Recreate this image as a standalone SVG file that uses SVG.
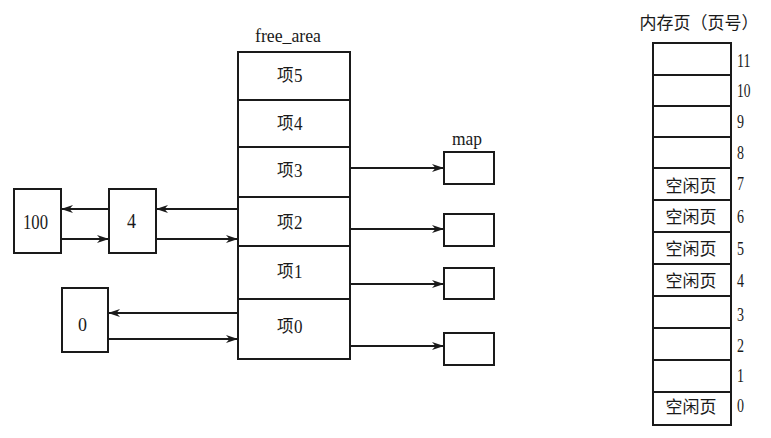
<svg xmlns="http://www.w3.org/2000/svg" width="771" height="438" viewBox="0 0 771 438">
<style>
  .box{fill:#fff;stroke:#1a1a1a;stroke-width:2}
  .sep{stroke:#1a1a1a;stroke-width:2}
  .s{font-family:"Liberation Serif",serif;fill:#1a1a1a}
  .c{font-family:"Noto Sans CJK SC","Liberation Serif",serif;font-size:16.5px;fill:#1a1a1a}
  .p{font-family:"Noto Sans CJK SC","Liberation Serif",serif;font-size:17px;fill:#1a1a1a;text-anchor:middle}
  .r{font-family:"Liberation Serif",serif;font-size:19px;fill:#1a1a1a}
  .d{font-family:"Liberation Serif",serif;font-size:18.5px;fill:#1a1a1a}
  .ln{stroke:#1a1a1a;stroke-width:1.8;fill:none;marker-end:url(#ah)}
</style>
<defs>
  <marker id="ah" markerUnits="userSpaceOnUse" markerWidth="13" markerHeight="9" refX="12" refY="4.5" orient="auto">
    <path d="M0,0.5 L12,4.5 L0,8.5 L3.5,4.5 z" fill="#1a1a1a"/>
  </marker>
</defs>
<rect width="771" height="438" fill="#fff"/>

<g id="free_area">
  <text class="s" x="255" y="42" font-size="19" textLength="66" lengthAdjust="spacingAndGlyphs">free_area</text>
  <rect class="box" x="238" y="52" width="112" height="307"/>
  <line class="sep" x1="238" y1="100" x2="350" y2="100"/>
  <line class="sep" x1="238" y1="147" x2="350" y2="147"/>
  <line class="sep" x1="238" y1="197" x2="350" y2="197"/>
  <line class="sep" x1="238" y1="246" x2="350" y2="246"/>
  <line class="sep" x1="238" y1="299" x2="350" y2="299"/>
  <text class="c" x="277" y="81">项</text><text class="d" x="294" y="82" textLength="8.5" lengthAdjust="spacingAndGlyphs">5</text>
  <text class="c" x="277" y="129">项</text><text class="d" x="294" y="130" textLength="8.5" lengthAdjust="spacingAndGlyphs">4</text>
  <text class="c" x="277" y="176">项</text><text class="d" x="294" y="177" textLength="8.5" lengthAdjust="spacingAndGlyphs">3</text>
  <text class="c" x="277" y="228">项</text><text class="d" x="294" y="229" textLength="8.5" lengthAdjust="spacingAndGlyphs">2</text>
  <text class="c" x="277" y="277">项</text><text class="d" x="294" y="278" textLength="8.5" lengthAdjust="spacingAndGlyphs">1</text>
  <text class="c" x="277" y="332">项</text><text class="d" x="294" y="333" textLength="8.5" lengthAdjust="spacingAndGlyphs">0</text>
</g>

<g id="map">
  <text class="s" x="452" y="145" font-size="19" textLength="30" lengthAdjust="spacingAndGlyphs">map</text>
  <rect class="box" x="444" y="152" width="50" height="32"/>
  <rect class="box" x="444" y="214" width="50" height="32"/>
  <rect class="box" x="444" y="268" width="50" height="31"/>
  <rect class="box" x="444" y="333" width="50" height="32"/>
</g>

<g id="node100">
  <rect class="box" x="14" y="189" width="47" height="64"/>
  <text class="s" x="23" y="229" font-size="22" textLength="25" lengthAdjust="spacingAndGlyphs">100</text>
</g>
<g id="node4">
  <rect class="box" x="109" y="189" width="47" height="64"/>
  <text class="s" x="127" y="228" font-size="21" textLength="9" lengthAdjust="spacingAndGlyphs">4</text>
</g>
<g id="node0">
  <rect class="box" x="62" y="288" width="46" height="64"/>
  <text class="s" x="78" y="331" font-size="19.5" textLength="9" lengthAdjust="spacingAndGlyphs">0</text>
</g>

<g id="pages">
  <text class="p" x="699" y="29">内存页（页号）</text>
  <rect class="box" x="653" y="43" width="78" height="382"/>
  <line class="sep" x1="653" y1="75" x2="731" y2="75"/>
  <line class="sep" x1="653" y1="106" x2="731" y2="106"/>
  <line class="sep" x1="653" y1="137" x2="731" y2="137"/>
  <line class="sep" x1="653" y1="168" x2="731" y2="168"/>
  <line class="sep" x1="653" y1="200" x2="731" y2="200"/>
  <line class="sep" x1="653" y1="232" x2="731" y2="232"/>
  <line class="sep" x1="653" y1="264" x2="731" y2="264"/>
  <line class="sep" x1="653" y1="296" x2="731" y2="296"/>
  <line class="sep" x1="653" y1="328" x2="731" y2="328"/>
  <line class="sep" x1="653" y1="360" x2="731" y2="360"/>
  <line class="sep" x1="653" y1="392" x2="731" y2="392"/>
  <text class="p" x="691" y="192">空闲页</text>
  <text class="p" x="691" y="223">空闲页</text>
  <text class="p" x="691" y="255">空闲页</text>
  <text class="p" x="691" y="287">空闲页</text>
  <text class="p" x="691" y="413">空闲页</text>
  <text class="r" x="737" y="67" textLength="13.5" lengthAdjust="spacingAndGlyphs">11</text>
  <text class="r" x="737" y="97" textLength="13.5" lengthAdjust="spacingAndGlyphs">10</text>
  <text class="r" x="737" y="128" textLength="7" lengthAdjust="spacingAndGlyphs">9</text>
  <text class="r" x="737" y="159" textLength="7" lengthAdjust="spacingAndGlyphs">8</text>
  <text class="r" x="737" y="190" textLength="7" lengthAdjust="spacingAndGlyphs">7</text>
  <text class="r" x="737" y="223" textLength="7" lengthAdjust="spacingAndGlyphs">6</text>
  <text class="r" x="737" y="255" textLength="7" lengthAdjust="spacingAndGlyphs">5</text>
  <text class="r" x="737" y="287" textLength="7" lengthAdjust="spacingAndGlyphs">4</text>
  <text class="r" x="737" y="321" textLength="7" lengthAdjust="spacingAndGlyphs">3</text>
  <text class="r" x="737" y="352" textLength="7" lengthAdjust="spacingAndGlyphs">2</text>
  <text class="r" x="737" y="382" textLength="7" lengthAdjust="spacingAndGlyphs">1</text>
  <text class="r" x="737" y="412" textLength="7" lengthAdjust="spacingAndGlyphs">0</text>
</g>

<g id="connectors">
  <line class="ln" x1="350" y1="168" x2="444" y2="168"/>
  <line class="ln" x1="350" y1="229" x2="444" y2="229"/>
  <line class="ln" x1="350" y1="284" x2="444" y2="284"/>
  <line class="ln" x1="350" y1="346" x2="444" y2="346"/>
  <line class="ln" x1="238" y1="209" x2="156" y2="209"/>
  <line class="ln" x1="109" y1="209" x2="61" y2="209"/>
  <line class="ln" x1="61" y1="239" x2="109" y2="239"/>
  <line class="ln" x1="156" y1="239" x2="238" y2="239"/>
  <line class="ln" x1="238" y1="313" x2="108" y2="313"/>
  <line class="ln" x1="108" y1="339" x2="238" y2="339"/>
</g>
</svg>
